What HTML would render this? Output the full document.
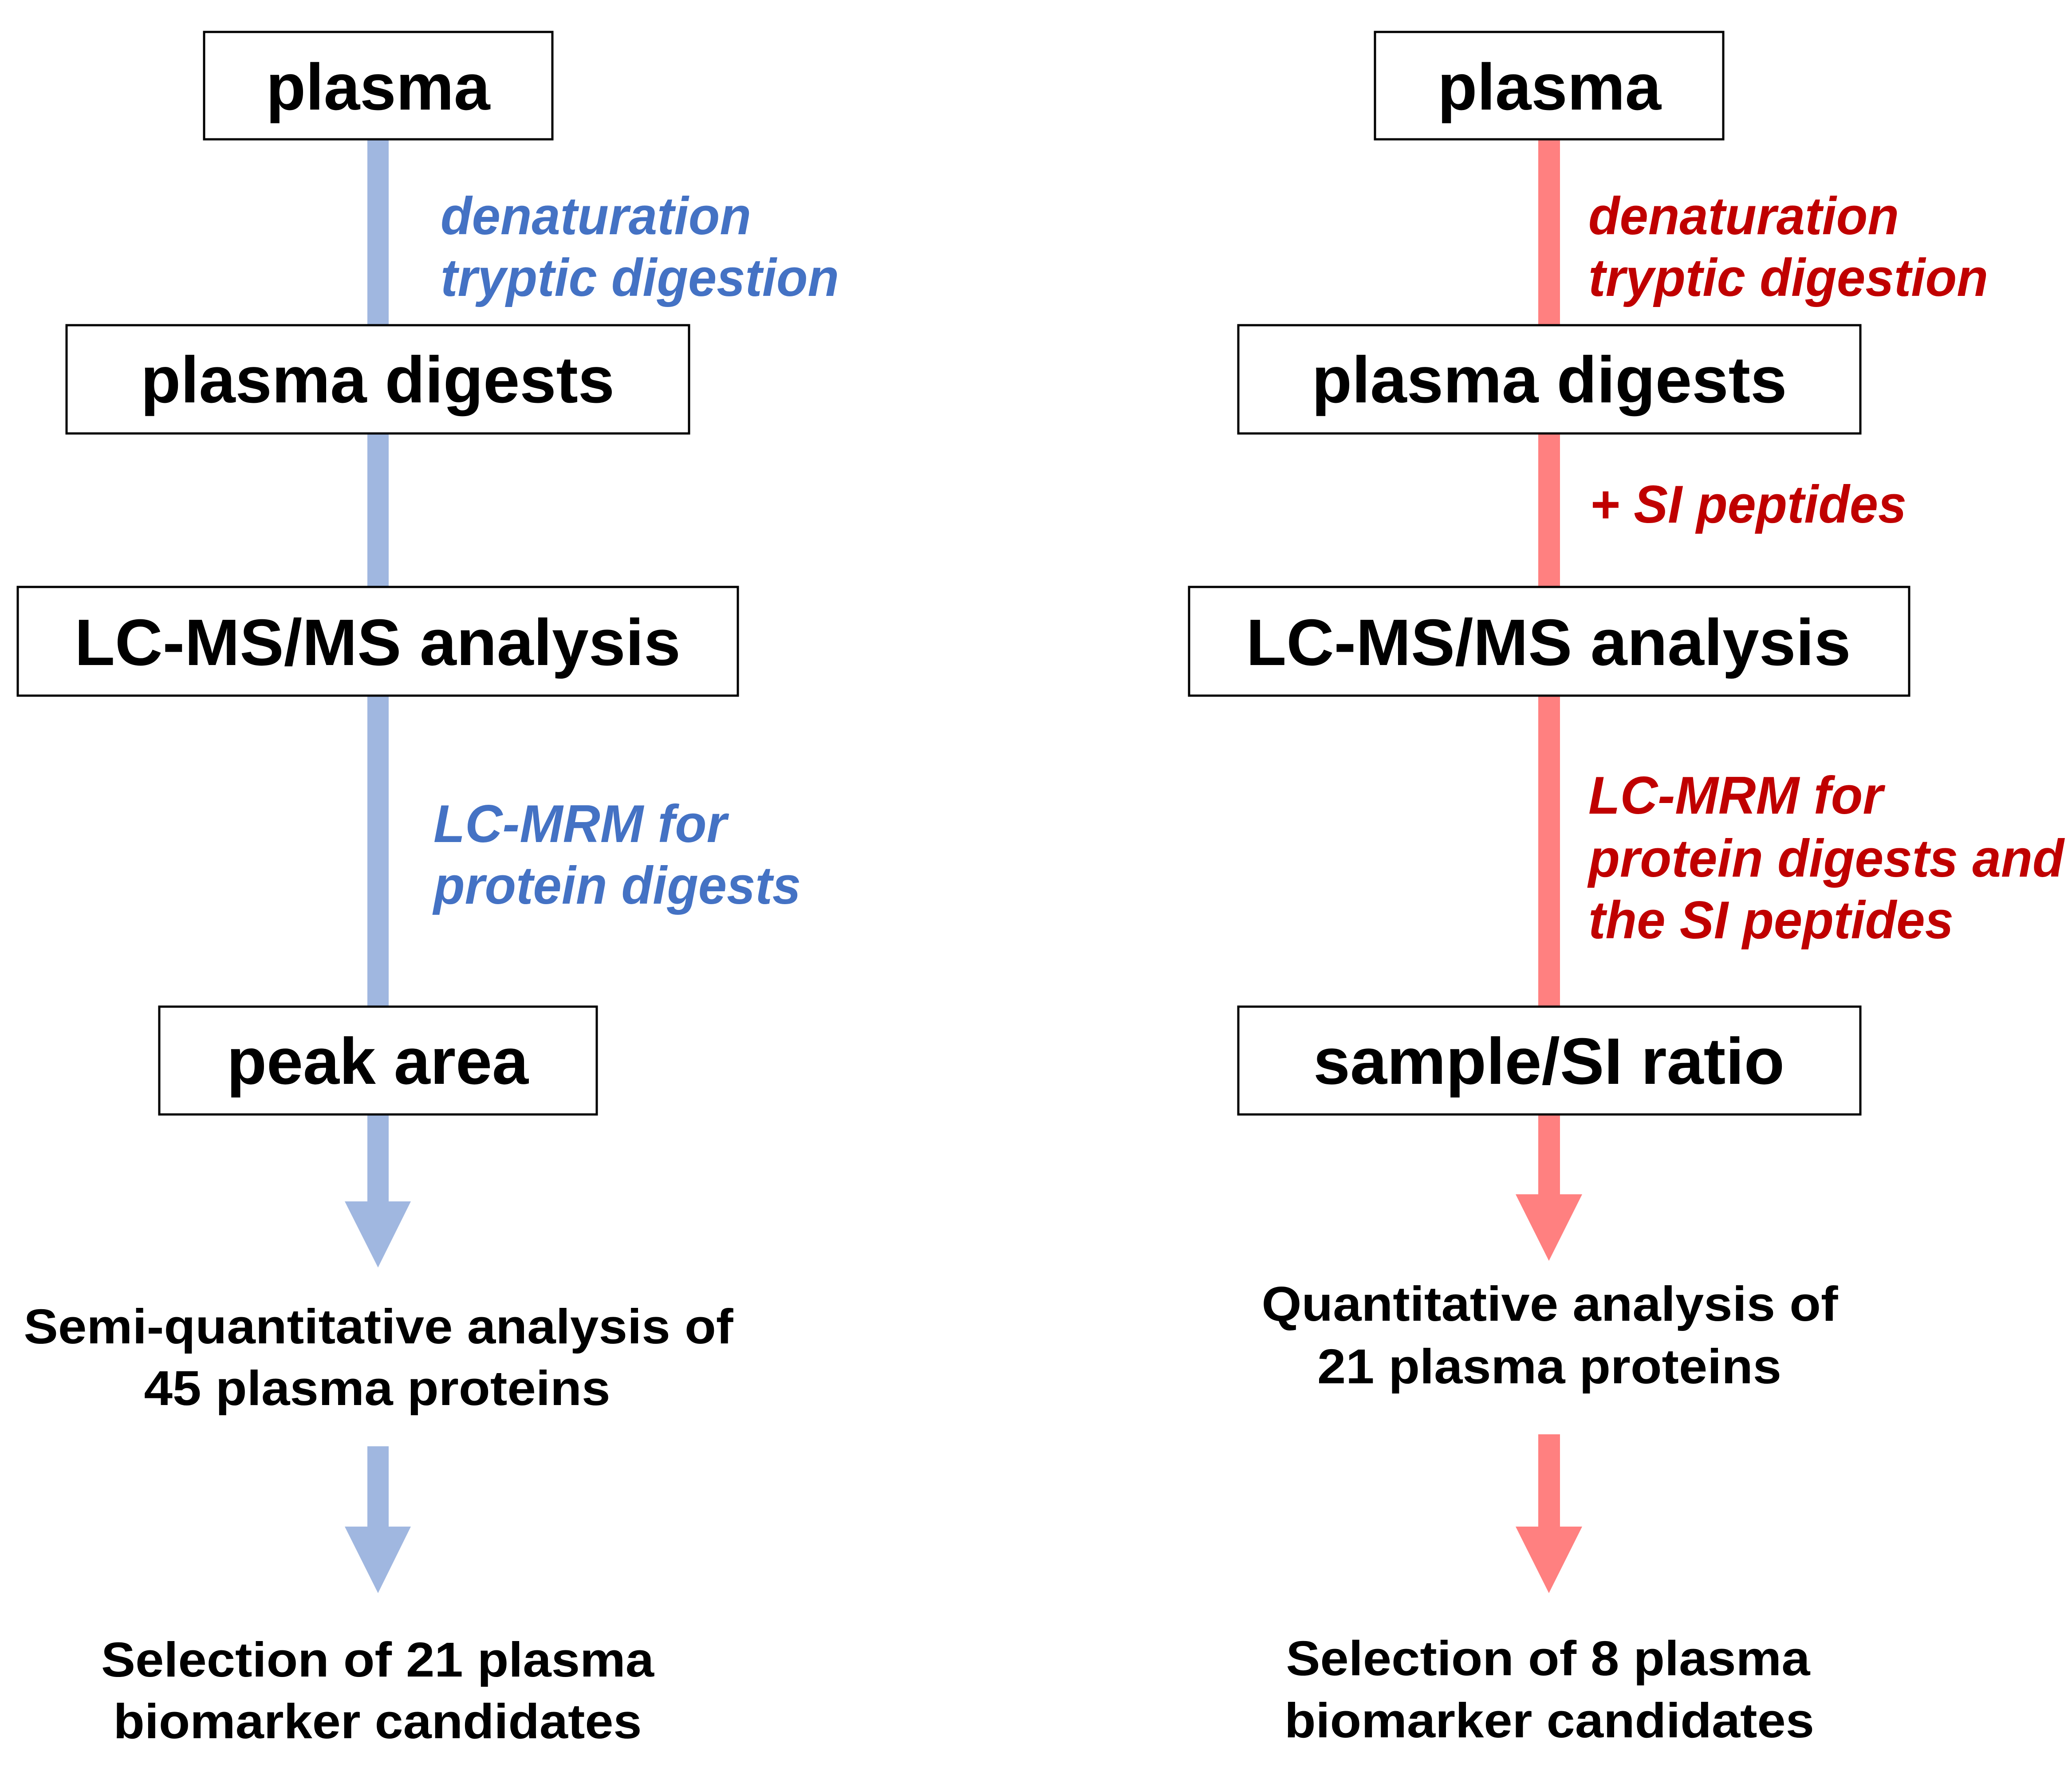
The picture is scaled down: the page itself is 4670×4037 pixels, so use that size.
<!DOCTYPE html>
<html><head><meta charset="utf-8"><style>
html,body{margin:0;padding:0;background:#fff}
svg{display:block}
text{font-family:"Liberation Sans",Arial,sans-serif;font-weight:bold}
.bx{font-size:148px;fill:#000}
.it{font-size:120px;font-style:italic}
.b{fill:#4472C4}.r{fill:#C00000}
.bt{font-size:110px;fill:#000}
</style></head><body>
<svg width="4670" height="4037" viewBox="0 0 4670 4037" xmlns="http://www.w3.org/2000/svg">
<rect width="4670" height="4037" fill="#fff"/>
<g fill="#A0B7E0">
<rect x="828" y="314" width="48" height="2396"/>
<polygon points="777,2708 926,2708 852,2857"/>
<rect x="828" y="3260" width="48" height="183"/>
<polygon points="777,3441 926,3441 852,3591"/>
</g>
<g fill="#FF8080">
<rect x="3467" y="314" width="49" height="2380"/>
<polygon points="3416,2692 3566,2692 3491,2842"/>
<rect x="3467" y="3233" width="49" height="210"/>
<polygon points="3416,3441 3566,3441 3491,3591"/>
</g>
<g fill="#fff" stroke="#000" stroke-width="5">
<rect x="460" y="72" width="785" height="242"/>
<rect x="150" y="733" width="1403" height="244"/>
<rect x="40" y="1323" width="1623" height="245"/>
<rect x="359" y="2269" width="986" height="243"/>
<rect x="3099" y="72" width="785" height="242"/>
<rect x="2791" y="733" width="1402" height="244"/>
<rect x="2680" y="1323" width="1623" height="245"/>
<rect x="2791" y="2269" width="1402" height="243"/>
</g>
<g class="bx" text-anchor="middle">
<text x="852" y="247" textLength="505" lengthAdjust="spacingAndGlyphs">plasma</text>
<text x="851" y="907" textLength="1068" lengthAdjust="spacingAndGlyphs">plasma digests</text>
<text x="851" y="1499" textLength="1366" lengthAdjust="spacingAndGlyphs">LC-MS/MS analysis</text>
<text x="851" y="2443" textLength="680" lengthAdjust="spacingAndGlyphs">peak area</text>
<text x="3492" y="247" textLength="504" lengthAdjust="spacingAndGlyphs">plasma</text>
<text x="3492" y="907" textLength="1071" lengthAdjust="spacingAndGlyphs">plasma digests</text>
<text x="3490" y="1499" textLength="1363" lengthAdjust="spacingAndGlyphs">LC-MS/MS analysis</text>
<text x="3491" y="2443" textLength="1062" lengthAdjust="spacingAndGlyphs">sample/SI ratio</text>
</g>
<g class="it">
<text class="b" x="993" y="528" textLength="700" lengthAdjust="spacingAndGlyphs">denaturation</text>
<text class="b" x="993" y="667" textLength="898" lengthAdjust="spacingAndGlyphs">tryptic digestion</text>
<text class="b" x="977" y="1898" textLength="661" lengthAdjust="spacingAndGlyphs">LC-MRM for</text>
<text class="b" x="977" y="2037" textLength="828" lengthAdjust="spacingAndGlyphs">protein digests</text>
<text class="r" x="3580" y="528" textLength="700" lengthAdjust="spacingAndGlyphs">denaturation</text>
<text class="r" x="3580" y="667" textLength="901" lengthAdjust="spacingAndGlyphs">tryptic digestion</text>
<text class="r" x="3583" y="1178" textLength="714" lengthAdjust="spacingAndGlyphs">+ SI peptides</text>
<text class="r" x="3580" y="1834" textLength="664" lengthAdjust="spacingAndGlyphs">LC-MRM for</text>
<text class="r" x="3580" y="1976" textLength="1072" lengthAdjust="spacingAndGlyphs">protein digests and</text>
<text class="r" x="3580" y="2115" textLength="823" lengthAdjust="spacingAndGlyphs">the SI peptides</text>
</g>
<g class="bt" text-anchor="middle">
<text x="853" y="3028" textLength="1599" lengthAdjust="spacingAndGlyphs">Semi-quantitative analysis of</text>
<text x="850" y="3167" textLength="1051" lengthAdjust="spacingAndGlyphs">45 plasma proteins</text>
<text x="851" y="3779" textLength="1246" lengthAdjust="spacingAndGlyphs">Selection of 21 plasma</text>
<text x="851" y="3918" textLength="1191" lengthAdjust="spacingAndGlyphs">biomarker candidates</text>
<text x="3493" y="2977" textLength="1299" lengthAdjust="spacingAndGlyphs">Quantitative analysis of</text>
<text x="3492" y="3118" textLength="1046" lengthAdjust="spacingAndGlyphs">21 plasma proteins</text>
<text x="3489" y="3776" textLength="1181" lengthAdjust="spacingAndGlyphs">Selection of 8 plasma</text>
<text x="3492" y="3916" textLength="1194" lengthAdjust="spacingAndGlyphs">biomarker candidates</text>
</g>
</svg>
</body></html>
